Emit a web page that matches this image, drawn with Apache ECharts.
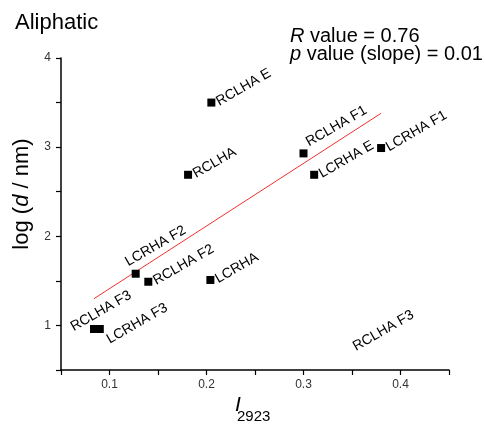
<!DOCTYPE html>
<html>
<head>
<meta charset="utf-8">
<script src="https://cdn.jsdelivr.net/npm/echarts@6/dist/echarts.min.js"></script>
<style>
  html, body { margin: 0; padding: 0; background: #fff; }
  #main { width: 485px; height: 432px; }
</style>
</head>
<body>
<div id="main"></div>
<script>
// 样品名称 / I2923 / log(d/nm)
const names = ["RCLHA E", "RCLHA", "RCLHA F1", "LCRHA E", "LCRHA F1", "LCRHA F2", "RCLHA F2", "LCRHA", "RCLHA F3", "LCRHA F3"];
const xVals = [0.205, 0.181, 0.300, 0.311, 0.380, 0.127, 0.140, 0.204, 0.084, 0.090];
const yVals = [3.50, 2.69, 2.93, 2.69, 2.99, 1.58, 1.49, 1.51, 0.96, 0.96];

// 没有点的标签 (右下角)
const orphanName = "RCLHA F3";
const orphanX = 0.346;
const orphanY = 0.75;

// 拟合线两端
const fitX = [0.084, 0.380];
const fitY = [1.30, 3.38];

const xTicks = [0.1, 0.2, 0.3, 0.4];
const yTicks = [1, 2, 3, 4];

// 个别标签的偏移
const labelTweak = {
  "LCRHA F2": [-8, -17],
  "RCLHA F1": [3, -10],
  "RCLHA F3": [-24, -15],
  "LCRHA F3": [-4, 11],
};

const font = "Liberation Sans, Arial, sans-serif";

let chart = echarts.init(document.getElementById("main"));

let pts = names.map((n, i) => {
  let d = { name: n, value: [xVals[i], yVals[i]] };
  if (labelTweak[n]) {
    d.label = { offset: labelTweak[n] };
  }
  return d;
});

const pointLabel = {
  show: true,
  position: "right",
  distance: 2,
  rotate: 30,
  formatter: "{b}",
  color: "#000",
  fontSize: 14,
  fontFamily: font,
};

let options = {
  animation: false,
  backgroundColor: "#fff",
  grid: { left: 61, right: 36, top: 58, bottom: 62 },
  xAxis: {
    type: "value",
    min: 0.05,
    max: 0.45,
    interval: 0.05,
    splitLine: { show: false },
    axisLine: { lineStyle: { color: "#000", width: 1.5 } },
    axisTick: { length: 5, lineStyle: { color: "#000", width: 1.2 } },
    axisLabel: {
      margin: 9,
      color: "#333",
      fontSize: 12,
      fontFamily: font,
      formatter: (v) => {
        let hit = xTicks.find((t) => Math.abs(t - v) < 1e-6);
        return hit !== undefined ? String(hit) : "";
      },
    },
  },
  yAxis: {
    type: "value",
    min: 0.5,
    max: 4,
    interval: 0.5,
    splitLine: { show: false },
    axisLine: { lineStyle: { color: "#000", width: 1.5 } },
    axisTick: { length: 5, lineStyle: { color: "#000", width: 1.2 } },
    axisLabel: {
      margin: 10,
      color: "#333",
      fontSize: 12,
      fontFamily: font,
      formatter: (v) => {
        let hit = yTicks.find((t) => Math.abs(t - v) < 1e-6);
        return hit !== undefined ? String(hit) : "";
      },
    },
  },
  series: [
    {
      type: "line",
      data: fitX.map((x, i) => [x, fitY[i]]),
      symbol: "none",
      lineStyle: { color: "#f23030", width: 1 },
      z: 1,
    },
    {
      type: "scatter",
      data: pts,
      symbol: "rect",
      symbolSize: 8,
      itemStyle: { color: "#000", opacity: 1 },
      label: pointLabel,
      z: 3,
    },
    {
      type: "scatter",
      data: [{ name: orphanName, value: [orphanX, orphanY] }],
      symbol: "rect",
      symbolSize: 8,
      itemStyle: { color: "rgba(0,0,0,0)", opacity: 1 },
      label: pointLabel,
      z: 3,
    },
  ],
  graphic: [
    {
      type: "text",
      left: 15,
      top: 12,
      style: { text: "Aliphatic", font: "22px " + font, fill: "#000" },
    },
    {
      type: "text",
      left: 290,
      top: 26,
      style: {
        text: "{i|R} value = 0.76\n{i|p} value (slope) = 0.01",
        font: "20px " + font,
        fill: "#000",
        lineHeight: 18,
        rich: { i: { fontStyle: "italic", fontSize: 20, fontFamily: font, lineHeight: 18 } },
      },
    },
    {
      type: "text",
      x: 22,
      y: 194,
      rotation: Math.PI / 2,
      style: {
        text: "log ({i|d} / nm)",
        font: "22px " + font,
        fill: "#000",
        align: "center",
        verticalAlign: "middle",
        rich: { i: { fontStyle: "italic", fontSize: 22, fontFamily: font } },
      },
    },
    {
      type: "text",
      x: 238,
      y: 405,
      style: { text: "I", font: "italic 21px " + font, fill: "#000", align: "center", verticalAlign: "middle" },
    },
    {
      type: "text",
      x: 237,
      y: 417,
      style: { text: "2923", font: "15px " + font, fill: "#000", align: "left", verticalAlign: "middle" },
    },
  ],
};

chart.setOption(options);
</script>
</body>
</html>
